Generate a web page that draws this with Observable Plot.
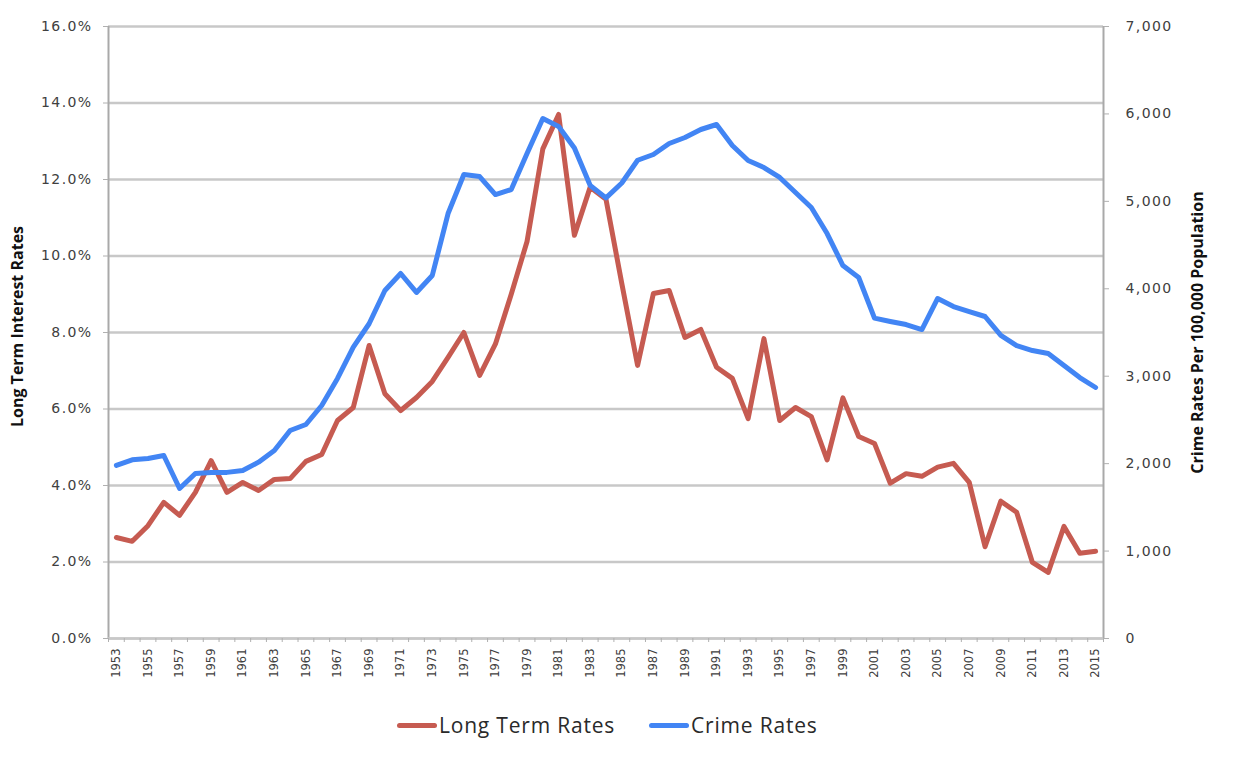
<!DOCTYPE html>
<html>
<head>
<meta charset="utf-8">
<script src="https://cdn.jsdelivr.net/npm/d3@7"></script>
<script src="https://cdn.jsdelivr.net/npm/@observablehq/plot@0.6"></script>
<style>
  html, body { margin: 0; padding: 0; background: #fff; }
  #wrap { position: relative; width: 1233px; height: 760px; overflow: hidden; }
  #legend { position: absolute; left: 397px; top: 711px; display: flex; align-items: center;
            font-family: "Open Sans", sans-serif; font-size: 21px; letter-spacing: 0.8px; color: #2a2a2a; }
  .item { display: flex; align-items: center; margin-right: 34px; }
  .sw { width: 40px; height: 5px; border-radius: 3px; margin-right: 2px; }
  g[aria-label="y-axis tick label"] text { letter-spacing: 1.4px; }
</style>
</head>
<body>
<div id="wrap"></div>
<script>
const years = [1953,1954,1955,1956,1957,1958,1959,1960,1961,1962,1963,1964,1965,1966,1967,1968,1969,1970,
  1971,1972,1973,1974,1975,1976,1977,1978,1979,1980,1981,1982,1983,1984,1985,1986,1987,1988,1989,1990,
  1991,1992,1993,1994,1995,1996,1997,1998,1999,2000,2001,2002,2003,2004,2005,2006,2007,2008,2009,2010,
  2011,2012,2013,2014,2015];

const longTermRates = [2.64,2.54,2.95,3.56,3.22,3.82,4.65,3.82,4.08,3.87,4.16,4.18,4.63,4.81,5.70,6.04,7.66,6.40,
  5.96,6.30,6.72,7.35,8.00,6.88,7.70,9.00,10.38,12.80,13.70,10.54,11.80,11.48,9.28,7.14,9.02,9.10,7.87,8.08,
  7.09,6.80,5.75,7.84,5.70,6.04,5.80,4.67,6.29,5.28,5.10,4.06,4.31,4.24,4.48,4.58,4.08,2.40,3.59,3.30,
  1.99,1.73,2.93,2.23,2.28];

const crimeRates = [1980,2044,2059,2093,1716,1887,1899,1900,1921,2017,2150,2379,2448,2665,2974,3332,3600,3980,
  4175,3958,4152,4861,5307,5284,5078,5135,5547,5947,5856,5610,5181,5040,5210,5470,5536,5662,5730,5822,
  5879,5639,5467,5387,5273,5101,4930,4632,4266,4129,3665,3626,3591,3534,3889,3797,3740,3683,3466,3351,
  3294,3260,3122,2985,2871];

const yearLabels = [1953,1955,1957,1959,1961,1963,1965,1967,1969,1971,1973,1975,1977,1979,1981,1983,1985,
  1987,1989,1991,1993,1995,1997,1999,2001,2003,2005,2007,2009,2011,2013,2015];
const leftTicks = [0,2,4,6,8,10,12,14,16];
const rightTicks = [0,1000,2000,3000,4000,5000,6000,7000];
const rightMax = 7000, leftMax = 16;

const series = ["Long Term Rates", "Crime Rates"];
const colors = ["#c65b51", "#4285f4"];

const data = years.map((y, i) => ({year: y, rate: longTermRates[i], crime: crimeRates[i]}));
const toLeft = c => c * leftMax / rightMax;
const bounds = [years[0] - 0.5, ...years.map(y => y + 0.5)];

const chart = Plot.plot({
  width: 1233,
  height: 700,
  marginLeft: 108,
  marginRight: 130,
  marginTop: 26,
  marginBottom: 62,
  style: {fontFamily: "DejaVu Sans, sans-serif", background: "#fff", color: "#404040"},
  x: {domain: [years[0] - 0.5, years[years.length - 1] + 0.5]},
  y: {domain: [0, leftMax]},
  marks: [
    Plot.gridY(leftTicks, {stroke: "#c8c8c8", strokeOpacity: 1, strokeWidth: 2.5}),
    Plot.ruleX([years[0] - 0.5, years[years.length - 1] + 0.5], {stroke: "#a9a9a9", strokeWidth: 2}),
    Plot.ruleY([0], {stroke: "#c8c8c8", strokeWidth: 2.5}),
    Plot.axisY(leftTicks, {anchor: "left", tickSize: 5, tickPadding: 11, fontSize: 14,
      stroke: "#b0b0b0", fill: "#404040", tickFormat: d => d.toFixed(1) + "%", label: null}),
    Plot.axisY(rightTicks.map(toLeft), {anchor: "right", tickSize: 5, tickPadding: 17, fontSize: 14,
      stroke: "#b0b0b0", fill: "#404040", tickFormat: v => d3.format(",")(Math.round(v * rightMax / leftMax)), label: null}),
    Plot.axisX(bounds, {anchor: "bottom", tickSize: 4, stroke: "#b0b0b0", tickFormat: () => "", label: null}),
    Plot.axisX(yearLabels, {anchor: "bottom", tickSize: 0, tickPadding: 10, tickRotate: -90, fontSize: 11.5,
      fill: "#404040", tickFormat: d => String(d), label: null}),
    Plot.line(data, {x: "year", y: "rate", stroke: colors[0], strokeWidth: 5, strokeLinejoin: "round", strokeLinecap: "round"}),
    Plot.line(data, {x: "year", y: d => toLeft(d.crime), stroke: colors[1], strokeWidth: 5, strokeLinejoin: "round", strokeLinecap: "round"}),
    Plot.text(["Long Term Interest Rates"], {frameAnchor: "left", textAnchor: "middle", rotate: -90, dx: -91, dy: -6,
      fontFamily: "Open Sans", fontWeight: "bold", fontSize: 16, fill: "#111"}),
    Plot.text(["Crime Rates Per 100,000 Population"], {frameAnchor: "right", textAnchor: "middle", rotate: -90, dx: 94,
      fontFamily: "Open Sans", fontWeight: "bold", fontSize: 16, fill: "#111"})
  ]
});

const wrap = document.getElementById("wrap");
wrap.appendChild(chart);

const legend = document.createElement("div");
legend.id = "legend";
series.forEach((s, i) => {
  const item = document.createElement("div");
  item.className = "item";
  const sw = document.createElement("span");
  sw.className = "sw";
  sw.style.background = colors[i];
  const t = document.createElement("span");
  t.textContent = s;
  item.appendChild(sw);
  item.appendChild(t);
  legend.appendChild(item);
});
wrap.appendChild(legend);
</script>
</body>
</html>
